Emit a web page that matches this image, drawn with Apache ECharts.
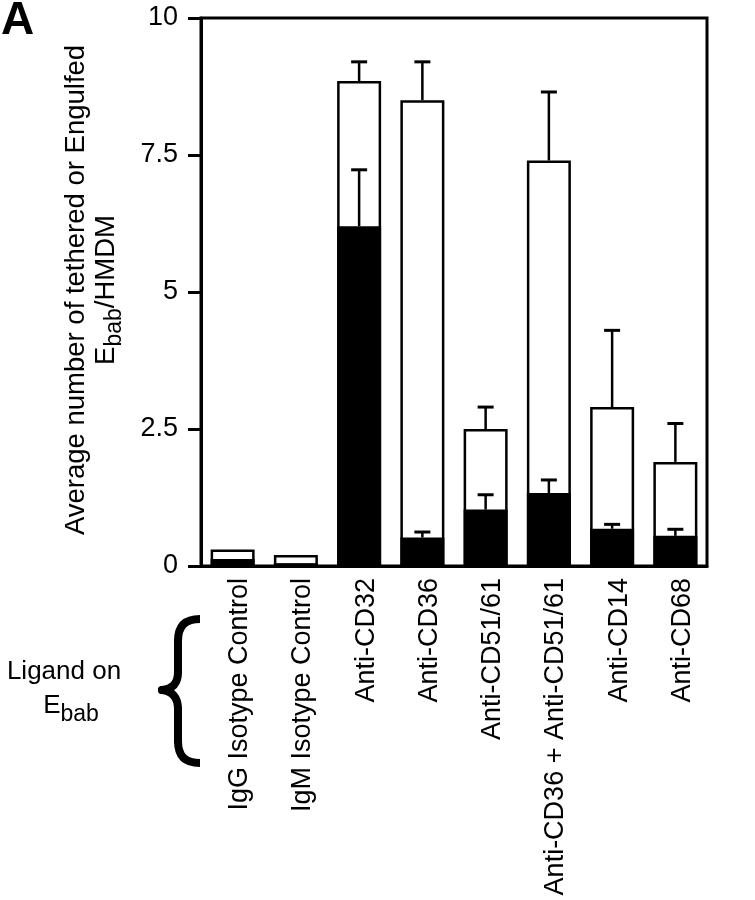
<!DOCTYPE html>
<html><head><meta charset="utf-8">
<script src="https://cdn.jsdelivr.net/npm/echarts@6/dist/echarts.min.js"></script>
<style>html,body{margin:0;padding:0;background:#fff}#c{width:755px;height:900px}</style>
</head><body><div id="c"></div>
<script>
// ---- data ----
const categories = ['IgG Isotype Control', 'IgM Isotype Control', 'Anti-CD32', 'Anti-CD36', 'Anti-CD51/61', 'Anti-CD36 + Anti-CD51/61', 'Anti-CD14', 'Anti-CD68'];
const totalValues = [0.3, 0.2, 8.85, 8.5, 2.5, 7.4, 2.9, 1.9];       // tethered or engulfed (white bars)
const totalErrors = [0, 0, 0.35, 0.7, 0.4, 1.25, 1.4, 0.7];
const engulfedValues = [0.13, 0.05, 6.2, 0.52, 1.03, 1.33, 0.68, 0.55]; // engulfed (black bars)
const engulfedErrors = [0, 0, 1.03, 0.1, 0.27, 0.24, 0.08, 0.12];
const yTicks = [0, 2.5, 5, 7.5, 10];

const FONT = 'Liberation Sans';
const chart = echarts.init(document.getElementById('c'), null, {renderer: 'canvas'});

function errData(vals, errs) {
  return vals.map((v, i) => [i, v, v + errs[i], errs[i]]).filter(d => d[3] > 0);
}
function renderErr(params, api) {
  const base = api.coord([api.value(0), api.value(1)]);
  const top = api.coord([api.value(0), api.value(2)]);
  const half = 8;
  return {type: 'group', children: [
    {type: 'line', shape: {x1: base[0], y1: base[1], x2: top[0], y2: top[1]}, style: {stroke: '#000', lineWidth: 2.5}},
    {type: 'line', shape: {x1: top[0] - half, y1: top[1], x2: top[0] + half, y2: top[1]}, style: {stroke: '#000', lineWidth: 3}}
  ]};
}

const subStyle = {fontSize: 23, fontFamily: FONT, color: '#000', lineHeight: 23, padding: [12, 0, 0, 0], verticalAlign: 'top'};
const braceStyle = {stroke: '#000', lineWidth: 8, fill: null};
const braceRound = {stroke: '#000', lineWidth: 8, fill: null, lineCap: 'round'};

chart.setOption({
  animation: false,
  backgroundColor: '#fff',
  grid: {left: 201, right: 48, top: 18, bottom: 334, show: true, borderColor: '#000', borderWidth: 3, backgroundColor: 'transparent'},
  xAxis: {
    type: 'category', data: categories,
    axisLine: {show: true, lineStyle: {color: '#000', width: 3}},
    axisTick: {show: false},
    axisLabel: {interval: 0, rotate: 90, margin: 12, color: '#000', fontSize: 27, fontFamily: FONT,
      formatter: v => '{v|' + v + '}',
      rich: {v: {fontSize: 27, fontFamily: FONT, color: '#000', lineHeight: 27, padding: [14, 0, 0, 0]}}}
  },
  yAxis: {
    type: 'value', min: yTicks[0], max: yTicks[yTicks.length - 1], interval: yTicks[1] - yTicks[0],
    splitLine: {show: false},
    axisLine: {show: true, lineStyle: {color: '#000', width: 3}},
    axisTick: {show: true, length: 13, lineStyle: {color: '#000', width: 3}},
    axisLabel: {margin: 23, color: '#000', fontSize: 27, fontFamily: FONT}
  },
  series: [
    {type: 'bar', data: totalValues, barWidth: 44, barGap: '-100%',
     itemStyle: {color: '#fff', borderColor: '#000', borderWidth: 2.5}, z: 2},
    {type: 'bar', data: engulfedValues, barWidth: 44,
     itemStyle: {color: '#000', borderColor: '#000', borderWidth: 2.5}, z: 3},
    {type: 'custom', data: errData(totalValues, totalErrors), renderItem: renderErr, z: 4},
    {type: 'custom', data: errData(engulfedValues, engulfedErrors), renderItem: renderErr, z: 4}
  ],
  graphic: [
    {type: 'text', left: 1, top: -2, style: {text: 'A', font: 'bold 46px "Liberation Sans"', fill: '#000'}},
    {type: 'text', x: 91, y: 290, rotation: Math.PI / 2,
     style: {text: 'Average number of tethered or Engulfed\nE{sub|bab}/HMDM', align: 'center', verticalAlign: 'middle',
             fontSize: 27.5, fontFamily: FONT, fill: '#000', lineHeight: 30,
             rich: {sub: subStyle}}},
    {type: 'text', x: 64, y: 672,
     style: {text: 'Ligand on', align: 'center', verticalAlign: 'middle',
             fontSize: 26, fontFamily: FONT, fill: '#000'}},
    {type: 'text', x: 71, y: 706,
     style: {text: 'E{sub|bab}', align: 'center', verticalAlign: 'middle',
             fontSize: 26, fontFamily: FONT, fill: '#000', lineHeight: 30,
             rich: {sub: subStyle}}},
    {type: 'bezierCurve', shape: {x1: 200, y1: 619, cpx1: 186, cpy1: 619, cpx2: 178, cpy2: 625, x2: 178, y2: 641}, style: braceStyle},
    {type: 'line', shape: {x1: 178, y1: 641, x2: 178, y2: 672}, style: braceRound},
    {type: 'bezierCurve', shape: {x1: 178, y1: 672, cpx1: 178, cpy1: 684, cpx2: 172, cpy2: 689, x2: 162, y2: 690}, style: braceRound},
    {type: 'bezierCurve', shape: {x1: 162, y1: 690, cpx1: 172, cpy1: 691, cpx2: 178, cpy2: 697, x2: 178, y2: 709}, style: braceRound},
    {type: 'line', shape: {x1: 178, y1: 709, x2: 178, y2: 741}, style: braceRound},
    {type: 'bezierCurve', shape: {x1: 178, y1: 741, cpx1: 178, cpy1: 757, cpx2: 186, cpy2: 763, x2: 200, y2: 763}, style: braceStyle}
  ]
});
</script>
</body></html>
